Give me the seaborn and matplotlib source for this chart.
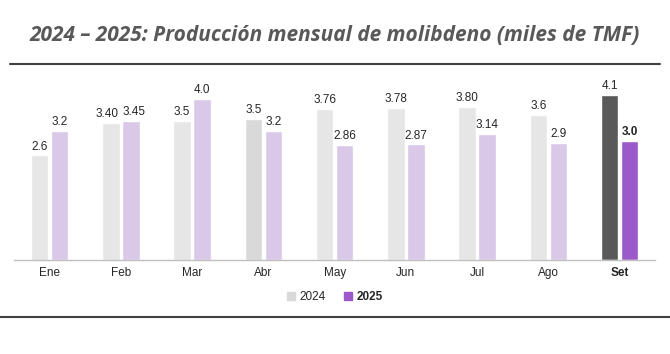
import pandas as pd
import matplotlib.pyplot as plt
import matplotlib.lines as mlines
import matplotlib.patches as mpatches
import seaborn as sns

# Data
months = ['Ene', 'Feb', 'Mar', 'Abr', 'May', 'Jun', 'Jul', 'Ago', 'Set']
prod_2024 = [2.6, 3.40, 3.46, 3.5, 3.76, 3.78, 3.80, 3.6, 4.1]
prod_2025 = [3.2, 3.45, 4.0, 3.2, 2.86, 2.87, 3.14, 2.9, 2.96]
labels_2024 = ['2.6', '3.40', '3.5', '3.5', '3.76', '3.78', '3.80', '3.6', '4.1']
labels_2025 = ['3.2', '3.45', '4.0', '3.2', '2.86', '2.87', '3.14', '2.9', '3.0']

df = pd.DataFrame({
    'mes': months * 2,
    'anio': ['2024'] * len(months) + ['2025'] * len(months),
    'valor': prod_2024 + prod_2025,
})

sns.set_style('white')
plt.rcParams['font.family'] = ['Liberation Sans', 'DejaVu Sans']

fig = plt.figure(figsize=(6.7, 3.54), dpi=100)
ax = fig.add_axes([0.021, 0.2655, 0.957, 0.537])

sns.barplot(data=df, x='mes', y='valor', hue='anio', order=months,
            palette={'2024': '#E6E6E6', '2025': '#D9C3EC'},
            width=0.56, gap=0.12, legend=False, ax=ax)

# highlight colours
bars24 = ax.containers[0]
bars25 = ax.containers[1]
bars24[3].set_facecolor('#D9D9D9')
bars24[-1].set_facecolor('#595959')
bars25[-1].set_facecolor('#9B59C9')

t24 = ax.bar_label(bars24, labels=labels_2024, padding=2, fontsize=8.5, color='#262626')
t25 = ax.bar_label(bars25, labels=labels_2025, padding=2, fontsize=8.5, color='#262626')
t25[-1].set_fontweight('bold')
# Feb labels sit close together: nudge them apart
t24[1].xyann = (-2.5, 2)
t25[1].xyann = (2.5, 2)

ax.set_ylim(0, 4.72)
ax.set_xlim(-0.5, len(months) - 0.5)
ax.set_xlabel('')
ax.set_ylabel('')
ax.set_yticks([])
for s in ['top', 'right', 'left']:
    ax.spines[s].set_visible(False)
ax.spines['bottom'].set_color('#BFBFBF')
ax.spines['bottom'].set_linewidth(1)

ax.set_xticks(range(len(months)))
ax.set_xticklabels(months, fontsize=8.5, color='#262626')
ax.get_xticklabels()[-1].set_fontweight('bold')
ax.tick_params(axis='x', which='major', length=0, pad=5)
ax.set_xticks([i - 0.5 for i in range(len(months) + 1)], minor=True)
ax.tick_params(axis='x', which='minor', length=4, color='#BFBFBF', width=1)

# legend
h24 = mpatches.Patch(color='#D9D9D9', label='2024')
h25 = mpatches.Patch(color='#9B59C9', label='2025')
leg = fig.legend(handles=[h24, h25], loc='center', bbox_to_anchor=(0.5, 0.161),
                 ncol=2, frameon=False, fontsize=8.5, handlelength=0.7,
                 handleheight=0.7, handletextpad=0.4, columnspacing=1.5)
leg.get_texts()[1].set_fontweight('bold')

# title and rules
fig.text(0.5, 0.9, '2024 – 2025: Producción mensual de molibdeno (miles de TMF)',
         ha='center', va='center', fontsize=15, fontweight='bold', style='italic',
         color='#595959', family=['Open Sans', 'DejaVu Sans'])
fig.add_artist(mlines.Line2D([0.015, 0.985], [0.819, 0.819], color='#404040', lw=1.5))
fig.add_artist(mlines.Line2D([0.0, 1.0], [0.105, 0.105], color='#404040', lw=1.5))

fig.savefig('out.png', dpi=100)
